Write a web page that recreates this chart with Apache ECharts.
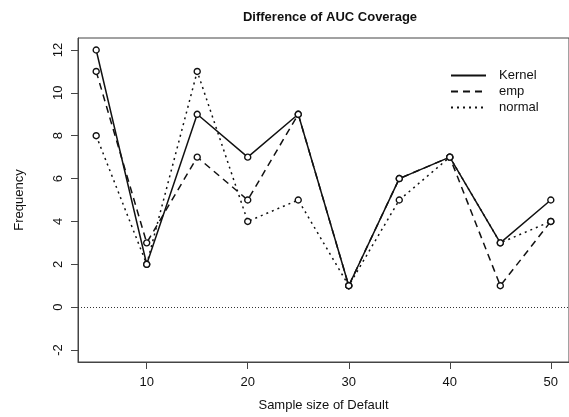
<!DOCTYPE html>
<html>
<head>
<meta charset="utf-8">
<script src="https://cdn.jsdelivr.net/npm/echarts@6/dist/echarts.min.js"></script>
<style>html,body{margin:0;padding:0;background:#fff}#c{width:569px;height:417px}</style>
</head>
<body>
<div id="c"></div>
<script>
const sampleSizes = [5, 10, 15, 20, 25, 30, 35, 40, 45, 50];
const kernel = [12, 2, 9, 7, 9, 1, 6, 7, 3, 5];
const emp    = [11, 3, 7, 5, 9, 1, 6, 7, 1, 4];
const normal = [8, 2, 11, 4, 5, 1, 5, 7, 3, 4];
const xTicks = [10, 20, 30, 40, 50];
const yTicks = [-2, 0, 2, 4, 6, 8, 10, 12];

const FONT = 'Liberation Sans, Arial, Helvetica, sans-serif';
const chart = echarts.init(document.getElementById('c'), null, {renderer: 'canvas'});
function pairs(arr) { return sampleSizes.map((x, i) => [x, arr[i]]); }
function mk(name, data, type) {
  return {
    name, type: 'line', data: pairs(data),
    symbol: 'circle', symbolSize: 6,
    itemStyle: {color: '#fff', borderColor: '#111', borderWidth: 1.4},
    lineStyle: {color: '#111', width: 1.5, type},
    animation: false
  };
}
const s1 = mk('Kernel', kernel, 'solid');
s1.markLine = {
  silent: true, symbol: ['none', 'none'], label: {show: false},
  lineStyle: {color: '#333', type: [1, 2], width: 1},
  data: [{yAxis: 0}], animation: false
};
chart.setOption({
  animation: false,
  backgroundColor: '#fff',
  title: {
    text: 'Difference of AUC Coverage', left: 325, top: 6, textAlign: 'center',
    textStyle: {fontFamily: FONT, fontSize: 13, fontWeight: 'bold', color: '#111'}
  },
  legend: {
    orient: 'vertical', left: 445, top: 64, itemGap: 3,
    itemWidth: 35, itemHeight: 12,
    textStyle: {fontFamily: FONT, fontSize: 13, color: '#111', padding: [0, 0, 0, 8]},
    itemStyle: {color: 'transparent', borderColor: 'transparent', borderWidth: 0},
    data: ['Kernel', 'emp', 'normal']
  },
  grid: {
    left: 78, top: 38, right: -8, bottom: 55, show: true,
    borderColor: '#444', borderWidth: 1, containLabel: false
  },
  xAxis: {
    type: 'value', min: 3.2, max: 51.8,
    name: 'Sample size of Default', nameLocation: 'middle', nameGap: 37,
    nameTextStyle: {fontFamily: FONT, fontSize: 13, color: '#111'},
    axisLine: {show: true, onZero: false, lineStyle: {color: '#444'}},
    axisTick: {show: true, length: 7, customValues: xTicks, lineStyle: {color: '#444'}},
    axisLabel: {customValues: xTicks, fontFamily: FONT, fontSize: 13, color: '#111', margin: 14},
    splitLine: {show: false}
  },
  yAxis: {
    type: 'value', min: -2.56, max: 12.56,
    name: 'Frequency', nameLocation: 'middle', nameGap: 52, nameRotate: 90,
    nameTextStyle: {fontFamily: FONT, fontSize: 13, color: '#111'},
    axisLine: {show: true, onZero: false, lineStyle: {color: '#444'}},
    axisTick: {show: true, length: 7, customValues: yTicks, lineStyle: {color: '#444'}},
    axisLabel: {customValues: yTicks, rotate: 90, fontFamily: FONT, fontSize: 13, color: '#111', margin: 13},
    splitLine: {show: false}
  },
  series: [s1, mk('emp', emp, [7, 5]), mk('normal', normal, [2, 4])]
});
</script>
</body>
</html>
